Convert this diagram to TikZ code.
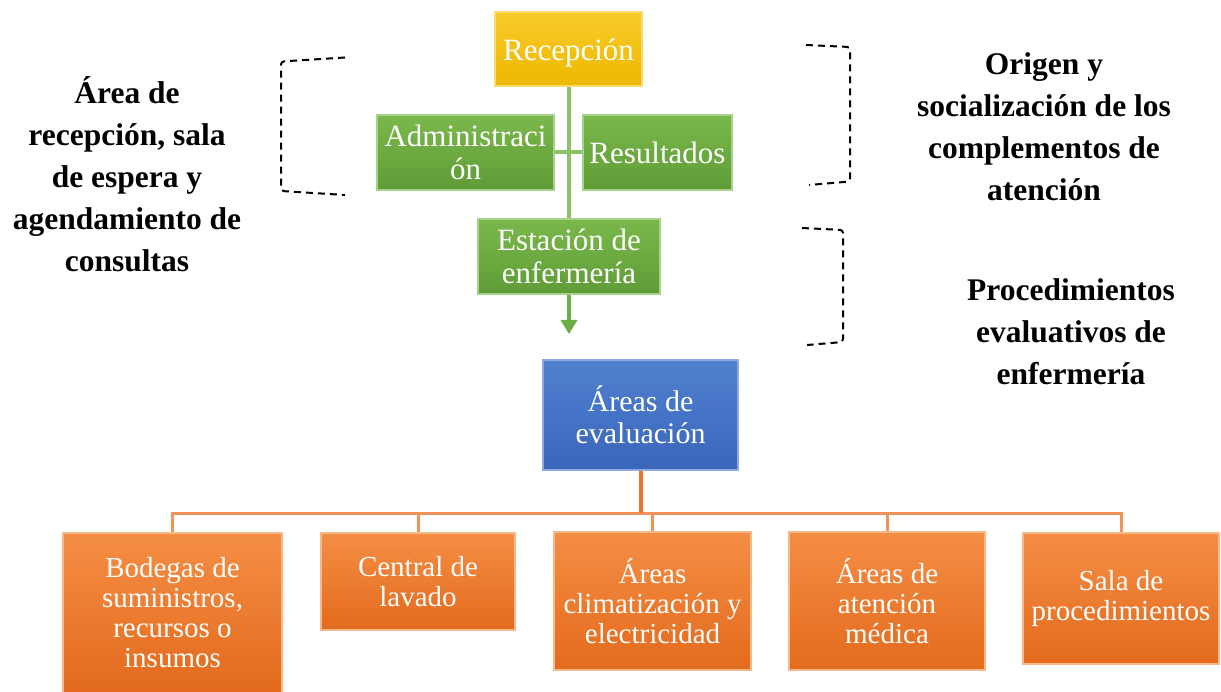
\documentclass[tikz,border=0pt]{standalone}
\usepackage{fontspec}
\setmainfont{Liberation Serif}
\usetikzlibrary{arrows.meta,calc,positioning}
\definecolor{ylwTop}{HTML}{F9CB2A}
\definecolor{ylwBot}{HTML}{EDB800}
\definecolor{ylwRim}{HTML}{FBDB6E}
\definecolor{grnTop}{HTML}{7AB84C}
\definecolor{grnBot}{HTML}{5F9C36}
\definecolor{grnRim}{HTML}{A9D18E}
\definecolor{bluTop}{HTML}{5080D0}
\definecolor{bluBot}{HTML}{3A66BA}
\definecolor{bluRim}{HTML}{8FAADC}
\definecolor{orgTop}{HTML}{F48E45}
\definecolor{orgBot}{HTML}{E36A1C}
\definecolor{orgRim}{HTML}{F8B98A}
\definecolor{grnLine}{HTML}{8CC168}
\definecolor{grnArrow}{HTML}{6FAD47}
\definecolor{orgLine}{HTML}{E8762A}
\definecolor{orgBus}{HTML}{F0925A}
\tikzstyle{unit} = [rectangle, align=center, text=white, inner sep=0pt,
line width=2pt]
\tikzstyle{ylwbox} = [unit, draw=ylwRim, top color=ylwTop, bottom color=ylwBot,
font=\fontsize{31}{33}\selectfont]
\tikzstyle{grnbox} = [unit, draw=grnRim, top color=grnTop, bottom color=grnBot,
font=\fontsize{31}{33}\selectfont]
\tikzstyle{blubox} = [unit, draw=bluRim, top color=bluTop, bottom color=bluBot,
font=\fontsize{30}{32}\selectfont]
\tikzstyle{orgbox} = [unit, draw=orgRim, top color=orgTop, bottom color=orgBot,
font=\fontsize{29}{30}\selectfont]
\tikzstyle{lbl} = [align=center, font=\bfseries\fontsize{31.5}{42}\selectfont]
\tikzstyle{gline} = [grnLine, line width=4pt]
\tikzstyle{garrow} = [grnArrow, line width=4pt, -{Triangle[width=16pt,length=14pt]}]
\tikzstyle{oline} = [orgLine, line width=4pt]
\tikzstyle{obus} = [orgBus, line width=3pt]
\tikzstyle{bracket} = [black, line width=2pt, dash pattern=on 7pt off 5pt,
rounded corners=3pt]
\tikzset{>=stealth}

\begin{document}
\begin{tikzpicture}[x=1pt, y=-1pt]
            \useasboundingbox (0,0) rectangle (1221,692);
            % upper part
            \node[ylwbox, minimum width=147pt, minimum height=74pt, text height=26pt, text depth=2pt] (rec) at (568.5,49) {Recepción};
            \node[grnbox, minimum width=177pt, minimum height=75pt] (adm) at (465.5,152.5) {Administraci\\ón};
            \node[grnbox, minimum width=149pt, minimum height=75pt] (res) at (657.5,152.5) {Resultados};
            \node[grnbox, minimum width=182pt, minimum height=75pt] (est) at (569,256.5) {Estación de\\enfermería};
            \coordinate (tip) at (569,334);
            \draw[gline] (rec.south) -- (rec.south |- est.north);
            \draw[gline] (adm.east) -- (res.west);
            \draw[garrow] (est.south) -- (tip);
            % lower part
            \node[blubox, minimum width=195pt, minimum height=110pt] (eva) at (640.5,415) {Áreas de\\evaluación};
            \node[orgbox, minimum width=219pt, minimum height=160pt] (bod) at (172.5,613) {Bodegas de\\suministros,\\recursos o\\insumos};
            \node[orgbox, minimum width=194pt, minimum height=97pt] (cen) at (418,581.5) {Central de\\lavado};
            \node[orgbox, minimum width=197pt, minimum height=138pt] (cli) at (652.5,601) {Áreas\\climatización y\\electricidad};
            \node[orgbox, minimum width=196pt, minimum height=138pt] (med) at (887,601) {Áreas de\\atención\\médica};
            \node[orgbox, minimum width=196pt, minimum height=131pt] (sal) at (1121,598.5) {Sala de\\procedimientos};
            \coordinate (bus) at (640,513);
            \foreach \b in {bod,cen,cli,med,sal}
                \draw[obus] (eva.south |- bus) -| (\b.north);
            \draw[oline] (eva.south) -- (eva.south |- bus);
            % dashed brackets
            \draw[bracket] (345,57.5) -- (281,61.5) -- (281,191) -- (345,195);
            \draw[bracket] (806,45) -- (850,47) -- (850,181.5) -- (809,185);
            \draw[bracket] (802,228) -- (843,230) -- (843,342) -- (807,345);
            % side labels
            \node[lbl] (larea) at (127,174) {Área de\\recepción, sala\\de espera y\\agendamiento de\\consultas};
            \node[lbl] (lorig) at (1044,127) {Origen y\\socialización de los\\complementos de\\atención};
            \node[lbl] (lproc) at (1071,332) {Procedimientos\\evaluativos de\\enfermería};
        \end{tikzpicture}
\end{document}
